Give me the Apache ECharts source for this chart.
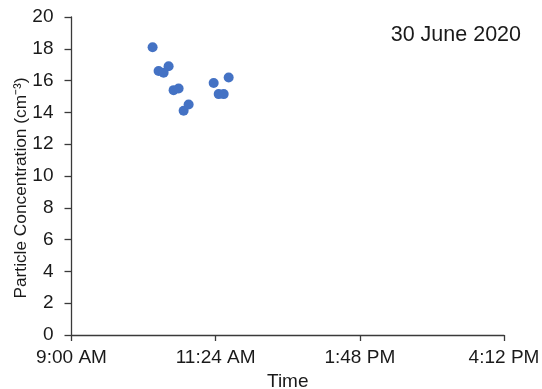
<!DOCTYPE html>
<html>
<head>
<meta charset="utf-8">
<script src="https://cdn.jsdelivr.net/npm/echarts@6/dist/echarts.min.js"></script>
<style>
  html, body { margin: 0; padding: 0; background: #fff; overflow: hidden; }
  #chart { width: 542px; height: 389px; }
</style>
</head>
<body>
<div id="chart"></div>
<script>
// Sample times (local clock, 30 June 2020)
var times = ['10:21', '10:27', '10:32', '10:37', '10:42', '10:47', '10:52', '10:57', '11:22', '11:27', '11:32', '11:37'];
// Particle concentration (cm^-3)
var concentration = [18.1, 16.6, 16.5, 16.9, 15.4, 15.5, 14.1, 14.5, 15.85, 15.15, 15.15, 16.2];
// Axis tick labels
var xTickLabels = ['9:00 AM', '11:24 AM', '1:48 PM', '4:12 PM'];
var yTicks = [0, 2, 4, 6, 8, 10, 12, 14, 16, 18, 20];
var dateLabel = '30 June 2020';

var START_MIN = 9 * 60; // axis origin 9:00 AM
var STEP_MIN = 144;     // 2 h 24 min between ticks

function toMinutesFromStart(t) {
  var p = t.split(':');
  return parseInt(p[0], 10) * 60 + parseInt(p[1], 10) - START_MIN;
}

var data = times.map(function (t, i) { return [toMinutesFromStart(t), concentration[i]]; });

var font = 'Liberation Sans, Arial, sans-serif';
var textColor = '#1a1a1a';
var axisColor = '#3a3a3a';

var el = document.getElementById('chart');
var chart = echarts.init(el, null, { width: 542, height: 389 });
chart.setOption({
  animation: false,
  backgroundColor: '#ffffff',
  title: {
    text: dateLabel,
    right: 16,
    top: 19,
    textStyle: { fontFamily: font, fontSize: 21.5, fontWeight: 'normal', color: textColor }
  },
  grid: { left: 71.5, right: 38, top: 17, bottom: 54, containLabel: false, outerBoundsMode: 'none' },
  xAxis: {
    type: 'value',
    min: 0,
    max: STEP_MIN * (xTickLabels.length - 1),
    interval: STEP_MIN,
    name: 'Time',
    nameLocation: 'middle',
    nameGap: 37,
    nameMoveOverlap: false,
    nameTextStyle: { fontFamily: font, fontSize: 19, color: textColor },
    axisLine: { show: true, lineStyle: { color: axisColor, width: 1.3 } },
    axisTick: { show: true, length: 6, lineStyle: { color: axisColor, width: 1.3 } },
    splitLine: { show: false },
    axisLabel: {
      margin: 13,
      fontFamily: font,
      fontSize: 19,
      color: textColor,
      formatter: function (v) {
        var idx = Math.round(v / STEP_MIN);
        return xTickLabels[idx] !== undefined ? xTickLabels[idx] : '';
      }
    }
  },
  yAxis: {
    type: 'value',
    min: yTicks[0],
    max: yTicks[yTicks.length - 1],
    interval: yTicks[1] - yTicks[0],
    name: 'Particle Concentration (cm⁻³)',
    nameLocation: 'middle',
    nameGap: 42,
    nameMoveOverlap: false,
    nameTextStyle: { fontFamily: font, fontSize: 17.3, color: textColor, padding: [0, 24, 0, 0] },
    axisLine: { show: true, lineStyle: { color: axisColor, width: 1.3 } },
    axisTick: { show: true, length: 7, lineStyle: { color: axisColor, width: 1.3 } },
    splitLine: { show: false },
    axisLabel: { margin: 18, fontFamily: font, fontSize: 19, color: textColor }
  },
  series: [{
    type: 'scatter',
    data: data,
    symbol: 'circle',
    symbolSize: 10,
    itemStyle: { color: '#4472C4', opacity: 1 }
  }]
});
</script>
</body>
</html>
